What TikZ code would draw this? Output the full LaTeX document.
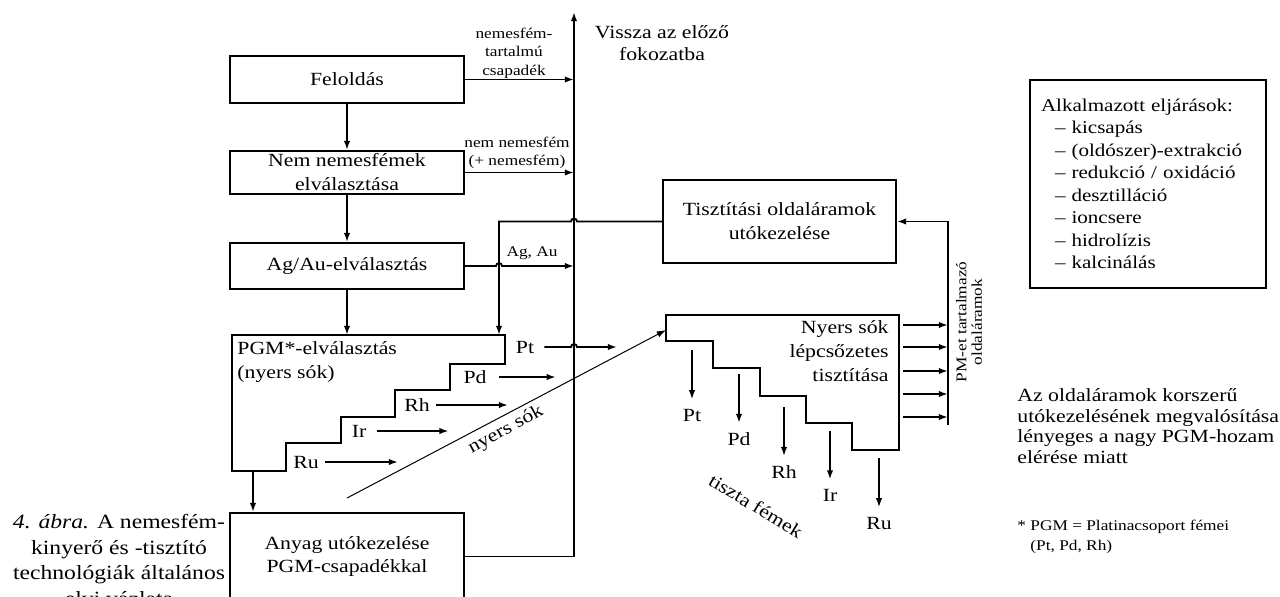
\documentclass[tikz,border=0pt]{standalone}
\usepackage{fontspec}
\setmainfont{Liberation Serif}[FakeStretch=1.17]
\usetikzlibrary{arrows.meta,positioning}

\newcommand{\mainfnt}{\fontsize{9.3}{12}\selectfont}
\newcommand{\listfnt}{\fontsize{9}{11.25}\selectfont}
\newcommand{\smallfnt}{\fontsize{7.4}{9.25}\selectfont}
\newcommand{\capfnt}{\fontsize{10.1}{12.75}\selectfont}

\begin{document}
\begin{tikzpicture}[x=0.5pt,y=-0.5pt,
		box/.style={rectangle,draw,line width=0.9pt,inner sep=0pt,align=center,font=\mainfnt},
		marrow/.style={-{Latex[length=4.6pt,width=3.2pt]},line width=0.9pt},
		lbl/.style={inner sep=0pt,font=\mainfnt},
		small/.style={inner sep=0pt,align=center,font=\smallfnt}]
		\useasboundingbox (0,0) rectangle (1280,596);

		\coordinate (trunk) at (574,12);
		\coordinate (pgm) at (232,335);
		\coordinate (pgmin) at (499,335);
		\coordinate (pgmbot) at (253,471);
		\coordinate (nyers) at (666,330);
		\coordinate (nystart) at (347,498);
		\coordinate (side) at (948,425);

		% left column
		\node [box,minimum width=117pt,minimum height=23.5pt] (feloldas) at (347,79.5) {Feloldás};
		\node [box,minimum width=117pt,minimum height=21.5pt] (nem) at (347,172.5) {Nem nemesfémek\\elválasztása};
		\node [box,minimum width=117pt,minimum height=23pt] (agau) at (347,266) {Ag/Au-elválasztás};
		\node [box,minimum width=117pt,minimum height=43.5pt] (anyag) at (347,556.5) {Anyag utókezelése\\PGM-csapadékkal};

		\draw [line width=0.9pt] (pgm) -- (505,335) -- (505,364) -- (450,364) -- (450,390) -- (395,390)
			-- (395,417) -- (341,417) -- (341,443) -- (286,443) -- (286,471) -- (232,471) -- cycle;
		\node [lbl,align=left,anchor=west] (pgmtxt) at (237,362) {PGM*-elválasztás\\(nyers sók)};

		% right column
		\node [box,minimum width=116.5pt,minimum height=41.5pt] (tiszt) at (779.5,221.5) {Tisztítási oldaláramok\\utókezelése};
		\node [box,align=left,text width=107pt,inner xsep=5.5pt,minimum height=104pt,font=\listfnt] (eljaras) at (1148,184) {
			Alkalmazott eljárások:\\
			\hspace*{7pt}– kicsapás\\
			\hspace*{7pt}– (oldószer)-extrakció\\
			\hspace*{7pt}– redukció / oxidáció\\
			\hspace*{7pt}– desztilláció\\
			\hspace*{7pt}– ioncsere\\
			\hspace*{7pt}– hidrolízis\\
			\hspace*{7pt}– kalcinálás
		};

		\draw [line width=0.9pt] (666,315) -- (899,315) -- (899,450) -- (852,450) -- (852,423) -- (806,423)
			-- (806,396) -- (760,396) -- (760,368) -- (713,368) -- (713,341) -- (666,341) -- cycle;
		\node [lbl,align=right,anchor=east] (nytxt) at (889,351) {Nyers sók\\lépcsőzetes\\tisztítása};

		% texts
		\node [lbl,align=center,font=\fontsize{9.3}{11}\selectfont] (vissza) at (662,43) {Vissza az előző\\fokozatba};
		\node [small] (nf) at (514,53) {nemesfém-\\tartalmú\\csapadék};
		\node [small] (nn) at (517,153) {nem nemesfém\\(+ nemesfém)};
		\node [small] (agaulbl) at (532,253) {Ag, Au};
		\node [small,rotate=90,font=\fontsize{7.4}{7.8}\selectfont] (pmlbl) at (969,322) {PM-et tartalmazó\\oldaláramok};
		\node [lbl,rotate=29] (nyerslbl) at (506,430) {nyers sók};
		\node [lbl,rotate=-31] (tiszta) at (756,506) {tiszta fémek};
		\node [lbl,align=left,anchor=west,font=\fontsize{9.3}{10.25}\selectfont] (megj) at (1017,426)
			{Az oldaláramok korszerű\\utókezelésének megvalósítása\\lényeges a nagy PGM-hozam\\elérése miatt};
		\node [small,align=left,anchor=west,font=\fontsize{7.4}{10}\selectfont] (pgmdef) at (1017,537)
			{* PGM = Platinacsoport fémei\\\hphantom{* }(Pt, Pd, Rh)};
		\node [lbl,align=center,font=\capfnt] (caption) at (119,560)
			{\textit{4. ábra.} A nemesfém-\\kinyerő és -tisztító\\technológiák általános\\elvi vázlata};

		% crude salts
		\node [lbl] (pt1) at (525,347) {Pt};
		\node [lbl] (pd1) at (475,377) {Pd};
		\node [lbl] (rh1) at (417,405) {Rh};
		\node [lbl] (ir1) at (359,431) {Ir};
		\node [lbl] (ru1) at (306,462) {Ru};

		% pure metals
		\node [lbl] (pt2) at (692,415) {Pt};
		\node [lbl] (pd2) at (739,439) {Pd};
		\node [lbl] (rh2) at (784,472) {Rh};
		\node [lbl] (ir2) at (830,495) {Ir};
		\node [lbl] (ru2) at (879,523) {Ru};

		% vertical arrows
		\draw [marrow] (feloldas) to (nem);
		\draw [marrow] (nem) to (agau);
		\draw [marrow] (agau) to (agau.south |- pgm);
		\draw [marrow] (pgmbot) to (pgmbot |- anyag.north);
		\draw [marrow] (anyag.east) -- (anyag.east -| trunk) -- (trunk);

		% horizontal arrows
		\draw [marrow] (feloldas.east) to (feloldas.east -| trunk);
		\draw [marrow] (nem.east) to (nem.east -| trunk);
		\draw [marrow] (agau.east) -- ([xshift=-1.5pt]agau.east -| pgmin)
			arc [start angle=180,end angle=0,radius=1.5pt] -- (agau.east -| trunk);
		\draw [marrow] (tiszt.west) -- ([xshift=1.5pt]tiszt.west -| trunk)
			arc [start angle=0,end angle=180,radius=1.5pt] -- (tiszt.west -| pgmin) -- (pgmin);

		\draw [marrow,shorten <=5pt] (pt1.east) -- ([xshift=-1.5pt]pt1.east -| trunk)
			arc [start angle=180,end angle=0,radius=1.5pt] -- (617,347);
		\draw [marrow,shorten <=6pt] (pd1.east) -- ++(69,0);
		\draw [marrow,shorten <=3pt] (rh1.east) -- ++(78,0);
		\draw [marrow,shorten <=5pt] (ir1.east) -- ++(82,0);
		\draw [marrow,shorten <=3pt] (ru1.east) -- ++(79,0);
		\draw [marrow,line width=0.5pt] (nystart) to (nyers);

		\draw [marrow,shorten >=4.5pt] ([yshift=29pt]pt2.north) -- (pt2.north);
		\draw [marrow,shorten >=4.5pt] ([yshift=29pt]pd2.north) -- (pd2.north);
		\draw [marrow,shorten >=4.5pt] ([yshift=29pt]rh2.north) -- (rh2.north);
		\draw [marrow,shorten >=4.5pt] ([yshift=29pt]ir2.north) -- (ir2.north);
		\draw [marrow,shorten >=4.5pt] ([yshift=29pt]ru2.north) -- (ru2.north);

		% side streams
		\foreach \y in {325,347,371,394,417}
			\draw [marrow] (903,\y) -- (side |- 903,\y);
		\draw [marrow] (side) -- (side |- tiszt.east) -- (tiszt.east);
	\end{tikzpicture}
\end{document}
